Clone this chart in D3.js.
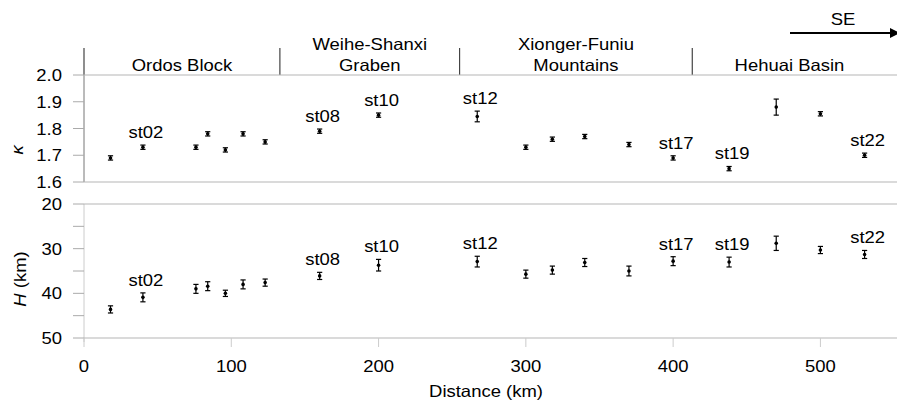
<!DOCTYPE html>
<html>
<head>
<meta charset="utf-8">
<script src="https://cdn.jsdelivr.net/npm/d3@7/dist/d3.min.js"></script>
<style>
  html, body { margin: 0; padding: 0; background: #fff; }
  svg { display: block; font-family: "Liberation Sans", Arial, sans-serif; }
</style>
</head>
<body>
<svg id="chart" width="897" height="406"></svg>
<script>
// Station distances along the profile (km)
const distances = [18, 40, 76, 84, 96, 108, 123, 160, 200, 267, 300, 318, 340, 370, 400, 438, 470, 500, 530];
// Vp/Vs ratio (kappa) with uncertainty
const kappa    = [1.69, 1.73, 1.73, 1.78, 1.72, 1.78, 1.75, 1.79, 1.85, 1.845, 1.73, 1.76, 1.77, 1.74, 1.69, 1.65, 1.88, 1.855, 1.70];
const kappaErr = [0.008, 0.008, 0.008, 0.008, 0.008, 0.008, 0.008, 0.008, 0.008, 0.02, 0.008, 0.008, 0.008, 0.008, 0.008, 0.008, 0.03, 0.008, 0.008];
// Crustal thickness H (km) with uncertainty
const depth    = [43.6, 40.9, 39.0, 38.4, 40.0, 38.0, 37.6, 36.1, 33.7, 32.9, 35.7, 34.8, 33.1, 35.0, 32.8, 33.0, 28.8, 30.3, 31.3];
const depthErr = [0.8, 1.0, 1.0, 1.0, 0.7, 1.0, 0.8, 0.8, 1.3, 1.2, 0.9, 0.9, 0.9, 1.1, 1.0, 1.1, 1.6, 0.8, 0.9];
// Station names shown on the plot
const stationLabels = ["", "st02", "", "", "", "", "", "st08", "st10", "st12", "", "", "", "", "st17", "st19", "", "", "st22"];
// Tectonic units and their boundaries (km)
const regionNames = [["Ordos Block"], ["Weihe-Shanxi", "Graben"], ["Xionger-Funiu", "Mountains"], ["Hehuai Basin"]];
const regionEdges = [0, 133, 255, 413, 545];
// Axis ticks
const xTicks = [0, 100, 200, 300, 400, 500];
const kappaTicks = [1.6, 1.7, 1.8, 1.9, 2.0];
const depthTicks = [20, 25, 30, 35, 40, 45, 50];
const depthTickLabels = [20, 30, 40, 50];

const svg = d3.select("#chart");
const FS = 16.5, SX = 1.12;   // font size and horizontal stretch of the lettering

function label(parent, x, y, str, anchor, rot) {
  return parent.append("text")
    .attr("transform", `translate(${x},${y})` + (rot ? ` rotate(${rot})` : "") + ` scale(${SX},1)`)
    .attr("text-anchor", anchor || "middle")
    .attr("font-size", FS)
    .attr("fill", "#000")
    .text(str);
}

const x = d3.scaleLinear().domain([0, 552]).range([84, 897]);
const yK = d3.scaleLinear().domain([1.6, 2.0]).range([182, 75]);
const yH = d3.scaleLinear().domain([20, 50]).range([204, 338]);

// ---- region header ----
const header = svg.append("g");
regionEdges.slice(0, 4).forEach(e => {
  header.append("line").attr("x1", x(e)).attr("x2", x(e)).attr("y1", 48).attr("y2", 75)
    .attr("stroke", "#444").attr("stroke-width", 1.2);
});
regionNames.forEach((lines, i) => {
  const cx = (x(regionEdges[i]) + x(regionEdges[i + 1])) / 2;
  if (lines.length === 1) label(header, cx, 71, lines[0]);
  else { label(header, cx, 50, lines[0]); label(header, cx, 71, lines[1]); }
});

// SE direction arrow
svg.append("defs").append("marker").attr("id", "arrow")
  .attr("viewBox", "0 0 10 10").attr("refX", 2).attr("refY", 5)
  .attr("markerWidth", 5).attr("markerHeight", 5).attr("orient", "auto")
  .append("path").attr("d", "M0,0 L10,5 L0,10 z").attr("fill", "#000");
svg.append("line").attr("x1", 790).attr("x2", 892).attr("y1", 33).attr("y2", 33)
  .attr("stroke", "#000").attr("stroke-width", 2).attr("marker-end", "url(#arrow)");
label(svg, 843, 25, "SE");

// ---- kappa panel ----
const gK = svg.append("g");
gK.append("line").attr("x1", 84).attr("x2", 84).attr("y1", 75).attr("y2", 182).attr("stroke", "#777");
[2.0, 1.6].forEach(v => gK.append("line").attr("x1", 84).attr("x2", 897)
  .attr("y1", yK(v)).attr("y2", yK(v)).attr("stroke", "#b5b5b5"));
kappaTicks.forEach(v => {
  gK.append("line").attr("x1", 73).attr("x2", 84).attr("y1", yK(v)).attr("y2", yK(v)).attr("stroke", "#aaa");
  label(gK, 62, yK(v) + 6, d3.format(".1f")(v), "end");
});
label(gK, 23, yK(1.72), "κ", "middle", -90).attr("font-style", "italic");

// ---- H panel ----
const gH = svg.append("g");
gH.append("line").attr("x1", 84).attr("x2", 84).attr("y1", 204).attr("y2", 342).attr("stroke", "#ccc");
[20, 50].forEach(v => gH.append("line").attr("x1", 84).attr("x2", 897)
  .attr("y1", yH(v)).attr("y2", yH(v)).attr("stroke", "#b5b5b5"));
depthTicks.forEach(v => {
  gH.append("line").attr("x1", 73).attr("x2", 84).attr("y1", yH(v)).attr("y2", yH(v)).attr("stroke", "#aaa");
});
depthTickLabels.forEach(v => label(gH, 62, yH(v) + 6, v, "end"));
const hLab = gH.append("text")
  .attr("transform", `translate(26,279) rotate(-90) scale(${SX},1)`)
  .attr("text-anchor", "middle").attr("font-size", FS).attr("fill", "#000");
hLab.append("tspan").attr("font-style", "italic").text("H");
hLab.append("tspan").text(" (km)");

// x axis
xTicks.forEach(v => {
  gH.append("line").attr("x1", x(v)).attr("x2", x(v)).attr("y1", 338).attr("y2", 347).attr("stroke", "#ccc");
  label(gH, x(v), 372, v);
});
label(svg, 486, 397, "Distance (km)");

// ---- error bars with markers ----
function errorBars(g, y, vals, errs) {
  const cap = 2.6;
  distances.forEach((d, i) => {
    const cx = x(d), lo = y(vals[i] - errs[i]), hi = y(vals[i] + errs[i]);
    g.append("line").attr("x1", cx).attr("x2", cx).attr("y1", lo).attr("y2", hi).attr("stroke", "#000").attr("stroke-width", 1.2);
    [lo, hi].forEach(yy => g.append("line").attr("x1", cx - cap).attr("x2", cx + cap)
      .attr("y1", yy).attr("y2", yy).attr("stroke", "#000").attr("stroke-width", 1.2));
    g.append("circle").attr("cx", cx).attr("cy", y(vals[i])).attr("r", 1.8).attr("fill", "#000");
    if (stationLabels[i]) {
      const top = Math.min(lo, hi);
      label(g, cx + 3, top - 7, stationLabels[i]);
    }
  });
}
errorBars(gK, yK, kappa, kappaErr);
errorBars(gH, yH, depth, depthErr);
</script>
</body>
</html>
